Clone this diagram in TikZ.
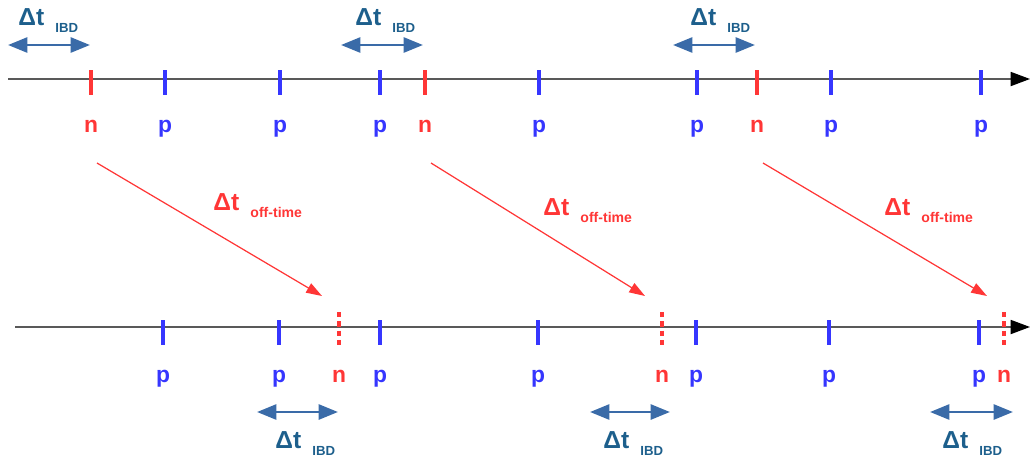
\documentclass[tikz,border=0pt]{standalone}
\usepackage{fontspec}
\setmainfont{Liberation Sans}
\usetikzlibrary{arrows.meta,positioning}
\definecolor{nred}{HTML}{FF3636}
\definecolor{pblue}{HTML}{3636FF}
\definecolor{ibdblue}{HTML}{3A6BA8}
\definecolor{dtblue}{HTML}{1D5F8C}

\begin{document}
\begin{tikzpicture}[
  x=0.02cm,y=-0.02cm,
  axis/.style={draw=black!65,line width=0.9pt,-{Triangle[length=11pt,width=8pt,color=black]}},
  tick/.style={line width=2.4pt},
  ntick/.style={draw=nred,line width=2.2pt,dash pattern=on 3pt off 2.3pt},
  lab/.style={font=\bfseries\fontsize{13}{13}\selectfont,inner sep=0pt,anchor=base},
  ibd/.style={draw=ibdblue,line width=1.6pt,{Triangle[length=11pt,width=8.5pt]}-{Triangle[length=11pt,width=8.5pt]}},
  dtlab/.style={font=\bfseries\fontsize{14}{14}\selectfont,inner sep=0pt,anchor=base west},
  sublab/.style={font=\bfseries\fontsize{7.5}{7.5}\selectfont,inner sep=0pt,anchor=base west},
  offarrow/.style={draw=nred,line width=0.7pt,-{Triangle[length=9pt,width=6pt]}}
]
\useasboundingbox (0,0) rectangle (1032,464);

% time axes
\coordinate (ta0) at (8,79);
\coordinate (ta1) at (1030,79);
\coordinate (ba0) at (15,327);
\coordinate (ba1) at (1030,327);
\draw[axis] (ta0) -- (ta1);
\draw[axis] (ba0) -- (ba1);

% upper line: prompt and delayed signals
\foreach \x/\k/\c [count=\i] in {91/n/nred,165/p/pblue,280/p/pblue,380/p/pblue,425/n/nred,
    539/p/pblue,697/p/pblue,757/n/nred,831/p/pblue,981/p/pblue}{
  \draw[tick,draw=\c] (\x,70) -- (\x,95);
  \node[lab,text=\c] (top\i) at (\x,132) {\k};
}

% lower line
\foreach \x [count=\i] in {163,279,380,538,696,829,979}{
  \draw[tick,draw=pblue] (\x,320) -- (\x,345);
  \node[lab,text=pblue] (bp\i) at (\x,382) {p};
}
\foreach \x [count=\i] in {339,662,1004}{
  \coordinate (nt\i) at (\x,312);
  \draw[ntick] (nt\i) -- (\x,346);
  \node[lab,text=nred] (bn\i) at (\x,382) {n};
}

% coincidence windows
\foreach \a/\b/\y [count=\i] in {8/90/45,341/423/45,673/755/45,257/338/412,590/670/412,930/1013/412}{
  \coordinate (ibdL\i) at (\a,\y);
  \coordinate (ibdR\i) at (\b,\y);
  \draw[ibd] (ibdL\i) -- (ibdR\i);
}
\foreach \x/\y [count=\i] in {18/25,355/25,690/25,275/448,603/448,942/448}{
  \node[dtlab,text=dtblue] (dt\i) at (\x,\y) {Δt};
  \node[sublab,text=dtblue] at ([xshift=6pt,yshift=-4pt]dt\i.base east) {IBD};
}

% shifted neutrons
\foreach \s/\x/\y [count=\i] in {top1/213/210,top5/543/215,top8/884/215}{
  \coordinate (os\i) at ([shift={(6,31)}]\s.base);
  \coordinate (oe\i) at ([shift={(-17,-16)}]nt\i);
  \draw[offarrow] (os\i) -- (oe\i);
  \node[dtlab,text=nred] (off\i) at (\x,\y) {Δt};
  \node[sublab,text=nred,font=\bfseries\fontsize{8}{8}\selectfont] at ([xshift=6pt,yshift=-4pt]off\i.base east) {off-time};
}
\end{tikzpicture}
\end{document}
